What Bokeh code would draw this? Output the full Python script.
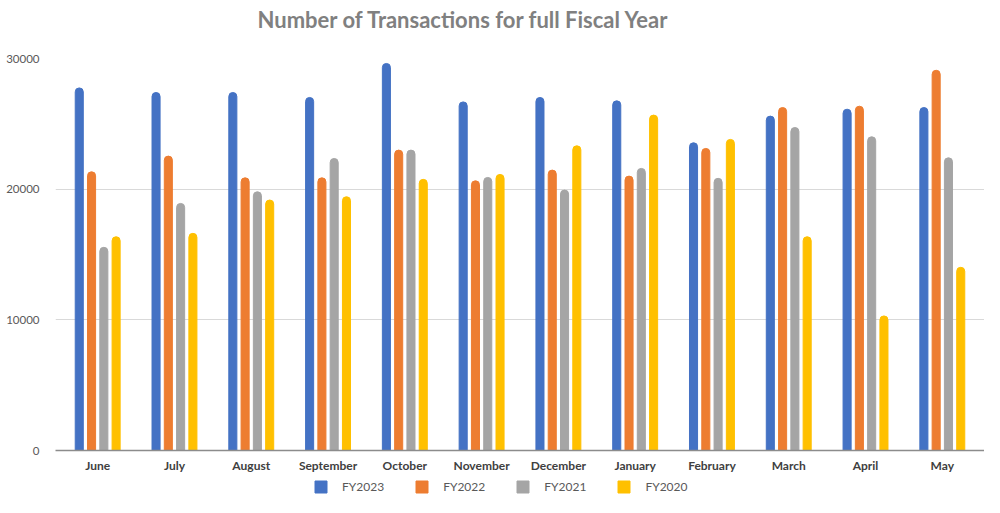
from bokeh.plotting import figure
from bokeh.layouts import column
from bokeh.models import (ColumnDataSource, FactorRange, FixedTicker, Legend, LegendItem,
                          Range1d, Title)
from bokeh.transform import dodge
from bokeh.embed import file_html
from bokeh.resources import INLINE

months = ["June", "July", "August", "September", "October", "November",
          "December", "January", "February", "March", "April", "May"]
fy2023 = [27750, 27400, 27400, 27020, 29620, 26680, 27020, 26760, 23550, 25590, 26120, 26250]
fy2022 = [21330, 22530, 20870, 20870, 22990, 20640, 21460, 21000, 23120, 26250, 26350, 29100]
fy2021 = [15550, 18910, 19800, 22350, 22990, 20900, 19930, 21590, 20830, 24720, 24010, 22400]
fy2020 = [16360, 16620, 19170, 19420, 20750, 21130, 23320, 25670, 23810, 16360, 10300, 14020]
series_names = ["FY2023", "FY2022", "FY2021", "FY2020"]
colors = ["#4472C4", "#ED7D31", "#A5A5A5", "#FFC000"]
y_ticks = [0, 10000, 20000, 30000]

source = ColumnDataSource(dict(month=months, FY2023=fy2023, FY2022=fy2022,
                               FY2021=fy2021, FY2020=fy2020))

x_range = FactorRange(*months, range_padding=0.00825, range_padding_units="percent")
p = figure(width=984, height=475, x_range=x_range, y_range=(0, 30000),
           output_backend="svg", toolbar_location=None,
           title="Number of Transactions for full Fiscal Year",
           min_border_left=55, min_border_right=0, min_border_top=58, min_border_bottom=24)

offsets = [-0.24, -0.08, 0.08, 0.24]
for name, col, off in zip(series_names, colors, offsets):
    p.vbar(x=dodge("month", off, range=p.x_range), top=name, width=0.105,
           source=source, color=col, border_radius=(4, 4, 0, 0))

# spacer between the title and the plot area
p.add_layout(Title(text=" ", text_font_size="2px", standoff=22), "above")

p.title.align = "left"
p.title.offset = 202
p.title.text_font = "Lato"
p.title.text_font_size = "22px"
p.title.text_font_style = "bold"
p.title.text_color = "#808080"
p.title.standoff = 0

p.outline_line_color = None
p.xgrid.grid_line_color = None
p.ygrid.grid_line_color = "#d9d9d9"
p.ygrid.grid_line_width = 1

p.yaxis.ticker = FixedTicker(ticks=y_ticks)
p.yaxis.axis_line_color = None
p.yaxis.major_tick_line_color = None
p.yaxis.minor_tick_line_color = None
p.yaxis.major_tick_out = 0
p.yaxis.major_label_standoff = 16
p.yaxis.major_label_text_font = "Lato"
p.yaxis.major_label_text_font_size = "11.5px"
p.yaxis.major_label_text_color = "#595959"

p.xaxis.axis_line_color = "#8c8c8c"
p.xaxis.axis_line_width = 1.5
p.xaxis.major_tick_line_color = None
p.xaxis.minor_tick_line_color = None
p.xaxis.major_tick_out = 0
p.xaxis.major_label_standoff = 7
p.xaxis.major_label_text_font = "Lato"
p.xaxis.major_label_text_font_size = "12px"
p.xaxis.major_label_text_font_style = "bold"
p.xaxis.major_label_text_color = "#404040"

# legend strip below the chart (hidden renderers, used only for legend swatches)
lf = figure(width=984, height=22, x_range=FactorRange(*months), y_range=Range1d(0, 1),
            output_backend="svg", toolbar_location=None,
            x_axis_type=None, y_axis_type=None,
            min_border_left=0, min_border_right=0, min_border_top=0, min_border_bottom=0)
lf.outline_line_color = None
lf.grid.grid_line_color = None
items = []
for name, col in zip(series_names, colors):
    r = lf.vbar(x="month", top=name, width=0.1, source=source, color=col, visible=False)
    items.append(LegendItem(label=name, renderers=[r]))
legend = Legend(items=items, orientation="horizontal", location=(258, 3),
                glyph_width=15, glyph_height=15, label_standoff=14, spacing=30,
                label_text_font="Lato", label_text_font_size="12px",
                label_text_color="#595959", border_line_color=None,
                background_fill_alpha=0, inactive_fill_alpha=0,
                padding=0, margin=0)
lf.add_layout(legend, "center")

layout = column(p, lf, spacing=0)
open("out.html", "w").write(file_html(layout, INLINE))
